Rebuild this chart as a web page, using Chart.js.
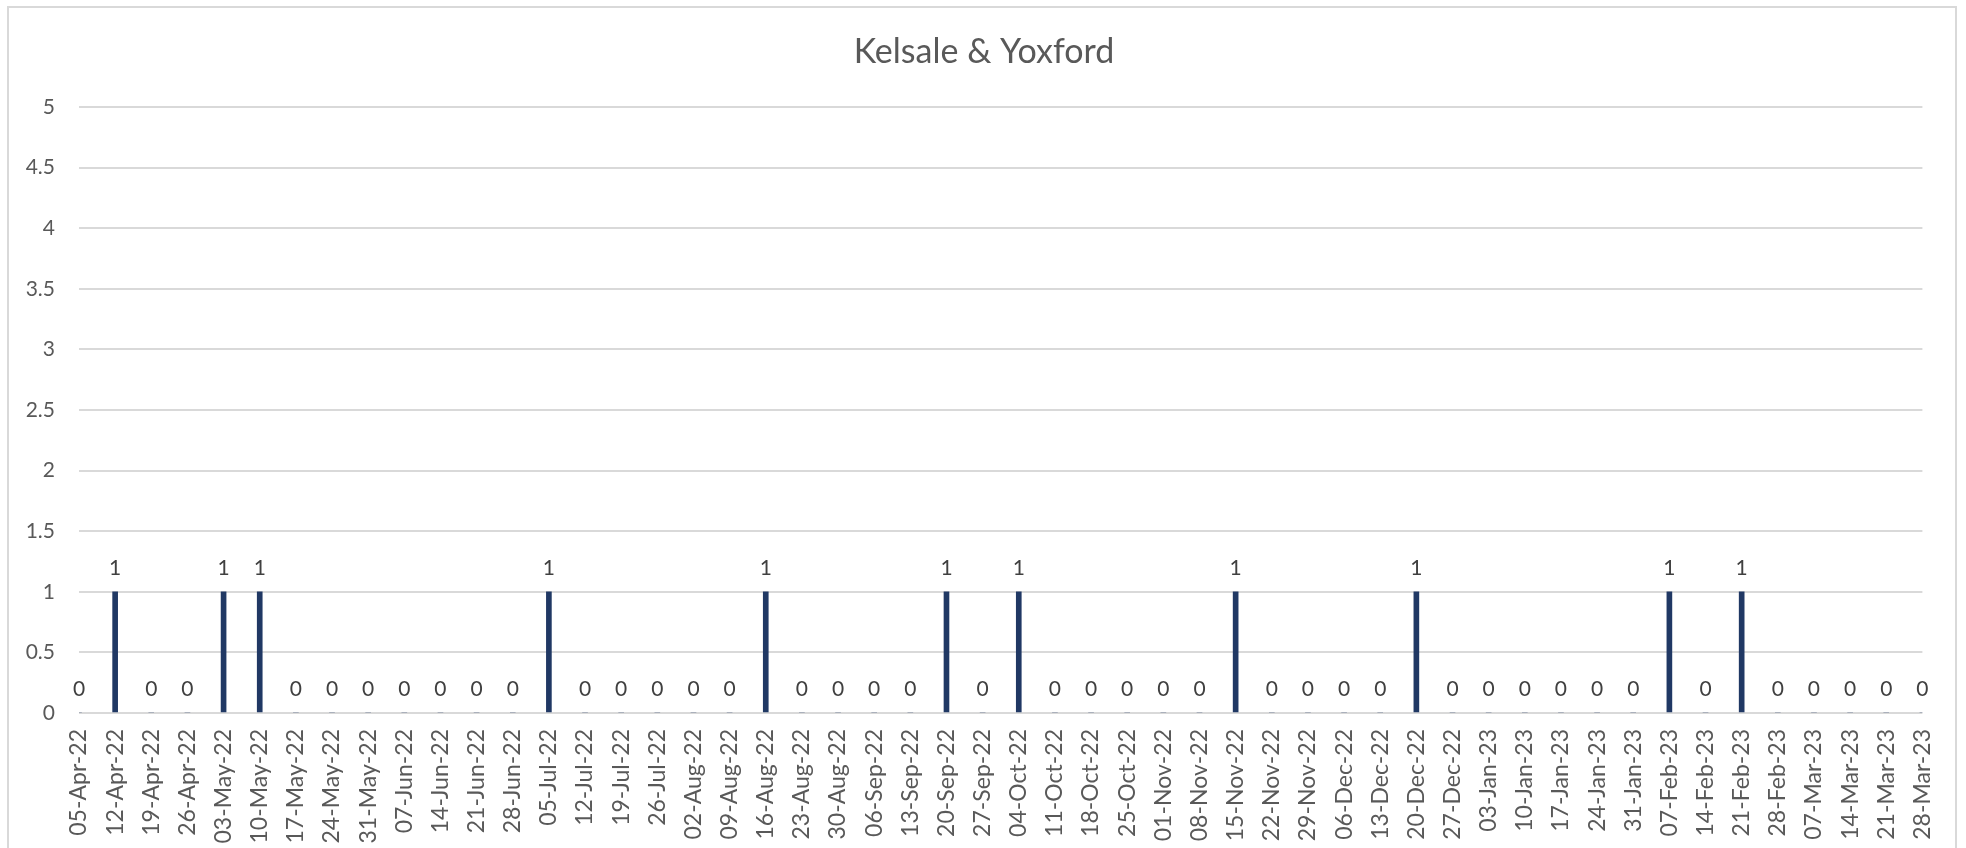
<!DOCTYPE html>
<html>
<head>
<meta charset="utf-8">
<script src="https://cdn.jsdelivr.net/npm/chart.js@4.4.1/dist/chart.umd.min.js"></script>
<style>
  html, body { margin: 0; padding: 0; background: #ffffff; overflow: hidden; }
  #wrap { position: absolute; left: 0; top: 0; width: 1966px; height: 848px; }
  #frame { position: absolute; left: 7px; top: 6px; width: 1950px; height: 900px; border: 2px solid #d9d9d9; box-sizing: border-box; pointer-events: none; }
</style>
</head>
<body>
<div id="wrap"><canvas id="c" width="1966" height="848"></canvas></div>
<div id="frame"></div>
<script>
const chartTitle = "Kelsale & Yoxford";
const categories = [
  "05-Apr-22","12-Apr-22","19-Apr-22","26-Apr-22",
  "03-May-22","10-May-22","17-May-22","24-May-22","31-May-22",
  "07-Jun-22","14-Jun-22","21-Jun-22","28-Jun-22",
  "05-Jul-22","12-Jul-22","19-Jul-22","26-Jul-22",
  "02-Aug-22","09-Aug-22","16-Aug-22","23-Aug-22","30-Aug-22",
  "06-Sep-22","13-Sep-22","20-Sep-22","27-Sep-22",
  "04-Oct-22","11-Oct-22","18-Oct-22","25-Oct-22",
  "01-Nov-22","08-Nov-22","15-Nov-22","22-Nov-22","29-Nov-22",
  "06-Dec-22","13-Dec-22","20-Dec-22","27-Dec-22",
  "03-Jan-23","10-Jan-23","17-Jan-23","24-Jan-23","31-Jan-23",
  "07-Feb-23","14-Feb-23","21-Feb-23","28-Feb-23",
  "07-Mar-23","14-Mar-23","21-Mar-23","28-Mar-23"
];
const values = [
  0,1,0,0,
  1,1,0,0,0,
  0,0,0,0,
  1,0,0,0,
  0,0,1,0,0,
  0,0,1,0,
  1,0,0,0,
  0,0,1,0,0,
  0,0,1,0,
  0,0,0,0,0,
  1,0,1,0,
  0,0,0,0
];
const yMin = 0, yMax = 5, yStep = 0.5;

const FONT = "Lato, 'Open Sans', sans-serif";

const titlePlugin = {
  id: 'drawTitle',
  afterDraw(chart) {
    const ctx = chart.ctx;
    ctx.save();
    ctx.font = "34px " + FONT;
    ctx.fillStyle = "#595959";
    ctx.textAlign = "center";
    ctx.textBaseline = "middle";
    ctx.fillText(chartTitle, 984, 52);
    ctx.restore();
  }
};

const labelPlugin = {
  id: 'barLabels',
  afterDatasetsDraw(chart) {
    const ctx = chart.ctx;
    const meta = chart.getDatasetMeta(0);
    const ds = chart.data.datasets[0].data;
    ctx.save();
    ctx.font = "21px " + FONT;
    ctx.fillStyle = "#404040";
    ctx.textAlign = "center";
    ctx.textBaseline = "middle";
    meta.data.forEach((el, i) => {
      ctx.fillText(String(ds[i]), el.x, el.y - 24);
    });
    ctx.restore();
  }
};

new Chart(document.getElementById('c'), {
  type: 'bar',
  data: {
    labels: categories,
    datasets: [{
      data: values,
      backgroundColor: '#203864',
      borderWidth: 0,
      barThickness: 5
    }]
  },
  options: {
    responsive: false,
    animation: false,
    events: [],
    layout: { padding: { left: 0, right: 36, top: 107, bottom: 0 } },
    plugins: {
      legend: { display: false },
      title: { display: false },
      tooltip: { enabled: false }
    },
    scales: {
      x: {
        offset: false,
        grid: { display: false, drawTicks: false },
        border: { display: false },
        ticks: {
          autoSkip: false,
          minRotation: 90,
          maxRotation: 90,
          padding: 16,
          color: '#595959',
          font: { family: FONT, size: 23 }
        },
        afterFit(scale) { scale.height = 848 - 713; }
      },
      y: {
        min: yMin,
        max: yMax,
        grid: { color: '#d9d9d9', lineWidth: 2, drawTicks: false },
        border: { display: false },
        ticks: {
          stepSize: yStep,
          padding: 24,
          color: '#595959',
          font: { family: FONT, size: 21 },
          callback: (v) => String(Math.round(v * 10) / 10)
        },
        afterFit(scale) { scale.width = 79; }
      }
    }
  },
  plugins: [titlePlugin, labelPlugin]
});
</script>
</body>
</html>
